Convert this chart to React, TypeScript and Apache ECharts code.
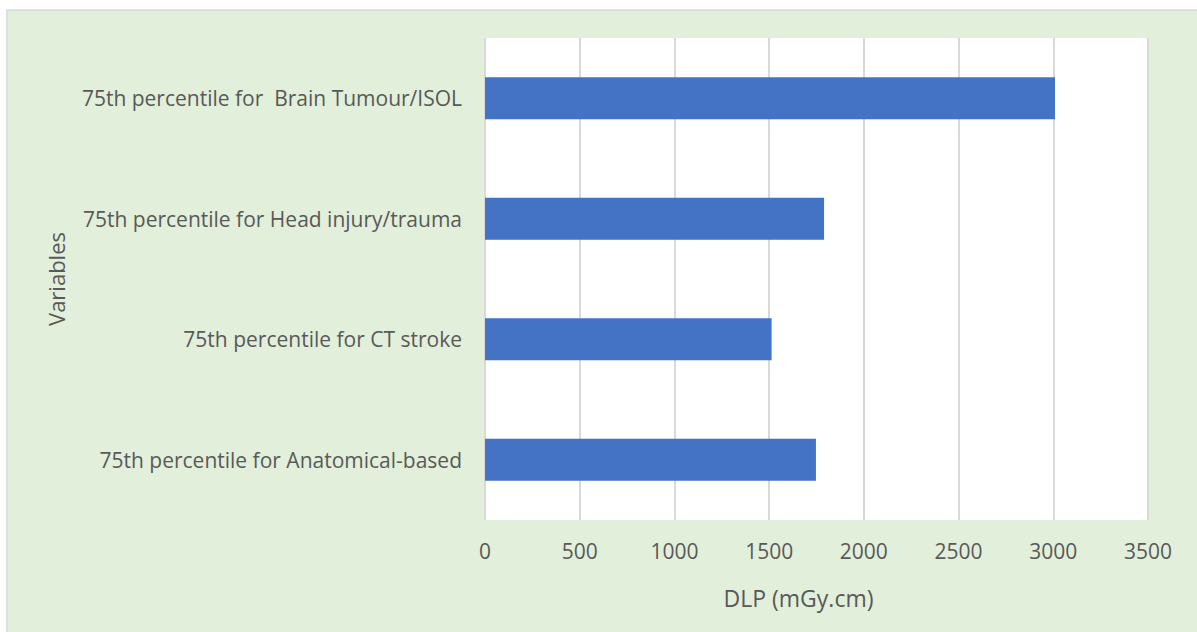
import React, { useEffect, useRef } from "react";
import * as echarts from "echarts";

const categories = [
  "75th percentile for Anatomical-based",
  "75th percentile for CT stroke",
  "75th percentile for Head injury/trauma",
  "75th percentile for  Brain Tumour/ISOL",
];
const values = [1747, 1513, 1790, 3009];
const xTicks = [0, 500, 1000, 1500, 2000, 2500, 3000, 3500];

export default function App() {
  const ref = useRef<HTMLDivElement>(null);
  useEffect(() => {
    const chart = echarts.init(ref.current!, null, { renderer: "svg" });
    const font = "'Open Sans', 'Noto Sans', sans-serif";
    chart.setOption({
      animation: false,
      backgroundColor: "#ffffff",
      graphic: [
        {
          type: "rect",
          shape: { x: 7, y: 10, width: 1200, height: 630 },
          style: { fill: "#E2EFDA", stroke: "#D9D9D9", lineWidth: 1.5 },
          z: -10,
        },
      ],
      grid: {
        left: 485,
        right: 49,
        top: 38,
        bottom: 112,
        show: true,
        backgroundColor: "#ffffff",
        borderWidth: 0,
      },
      xAxis: {
        type: "value",
        min: 0,
        max: 3500,
        interval: 500,
        axisLine: { show: false },
        axisTick: { show: false },
        splitLine: { lineStyle: { color: "#D9D9D9", width: 2 } },
        axisLabel: {
          color: "#595959",
          fontSize: 21,
          fontFamily: font,
          margin: 20,
          formatter: (v: number) => (xTicks.includes(v) ? String(v) : ""),
        },
        name: "DLP (mGy.cm)",
        nameLocation: "middle",
        nameGap: 66,
        nameTextStyle: {
          color: "#595959",
          fontSize: 23,
          fontFamily: font,
          padding: [0, 36, 0, 0],
        },
      },
      yAxis: {
        type: "category",
        data: categories,
        axisLine: { show: false },
        axisTick: { show: false },
        axisLabel: {
          color: "#595959",
          fontSize: 21,
          fontFamily: font,
          margin: 23,
        },
        name: "Variables",
        nameLocation: "middle",
        nameGap: 418,
        nameRotate: 90,
        nameTextStyle: { color: "#595959", fontSize: 22, fontFamily: font },
      },
      series: [
        {
          type: "bar",
          data: values,
          barWidth: 42,
          itemStyle: { color: "#4472C4" },
        },
      ],
    });
    return () => chart.dispose();
  }, []);
  return (
    <div
      ref={ref}
      style={{ position: "absolute", left: 0, top: 0, width: 1197, height: 632 }}
    />
  );
}
